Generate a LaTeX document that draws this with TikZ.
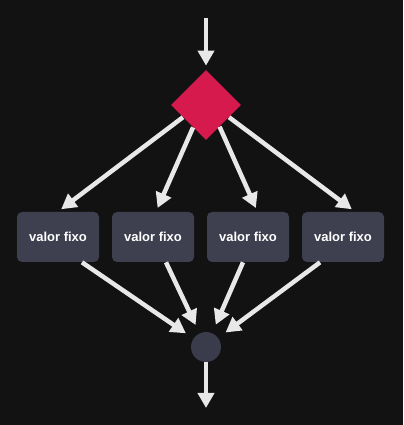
\documentclass[tikz,border=0pt]{standalone}
\usepackage{fontspec}
\setsansfont{Liberation Sans}
\usepackage{xcolor}
\usepackage{tikz}
\usetikzlibrary{positioning,shapes.geometric,arrows.meta}
\definecolor{bgdark}{RGB}{18,18,18}
\definecolor{boxfill}{RGB}{62,63,79}
\definecolor{joinfill}{RGB}{58,59,75}
\definecolor{choicered}{RGB}{214,26,78}
\definecolor{flowgray}{RGB}{232,232,232}
\tikzset{
  valbox/.style={fill=boxfill, rounded corners=0.1cm,
                 minimum width=1.64cm, minimum height=1.0cm,
                 inner sep=0pt, text=white,
                 font=\sffamily\bfseries\fontsize{7.4}{9}\selectfont},
  choice/.style={diamond, aspect=1, fill=choicered,
                 minimum width=1.4cm, minimum height=1.4cm, inner sep=0pt},
  joinpt/.style={circle, fill=joinfill, minimum size=0.6cm, inner sep=0pt},
  flow/.style={draw=flowgray, line width=0.09cm,
               -{Triangle[length=0.3cm,width=0.32cm]}},
}

\begin{document}
\begin{tikzpicture}
\fill[bgdark] (0,0) rectangle (8.06,8.5);
% entry, choice and join
\coordinate (in) at (4.12,8.14);
\node[choice] (dia) at (4.12,6.40) {};
\node[joinpt] (join) at (4.12,1.56) {};
\coordinate (out) at (4.12,0.34);
\draw[flow, shorten >=0.08cm] (in) -- (dia);
\draw[flow] (join) -- (out);
% four fixed-value branches
\foreach \ang/\tx/\bx [count=\i] in {208/0/0.48, 240/0.06/0.26,
                                      302/0.19/-0.10, 332/0.24/-0.46}{
  \node[valbox] (b\i) at ({1.16+(\i-1)*1.9}, 3.76) {valor fixo};
  \draw[flow, shorten >=0.08cm] (dia.\ang) -- ([xshift=\tx cm]b\i.north);
  \draw[flow, shorten >=0.18cm] ([xshift=\bx cm]b\i.south) -- (join);
}
\end{tikzpicture}
\end{document}
